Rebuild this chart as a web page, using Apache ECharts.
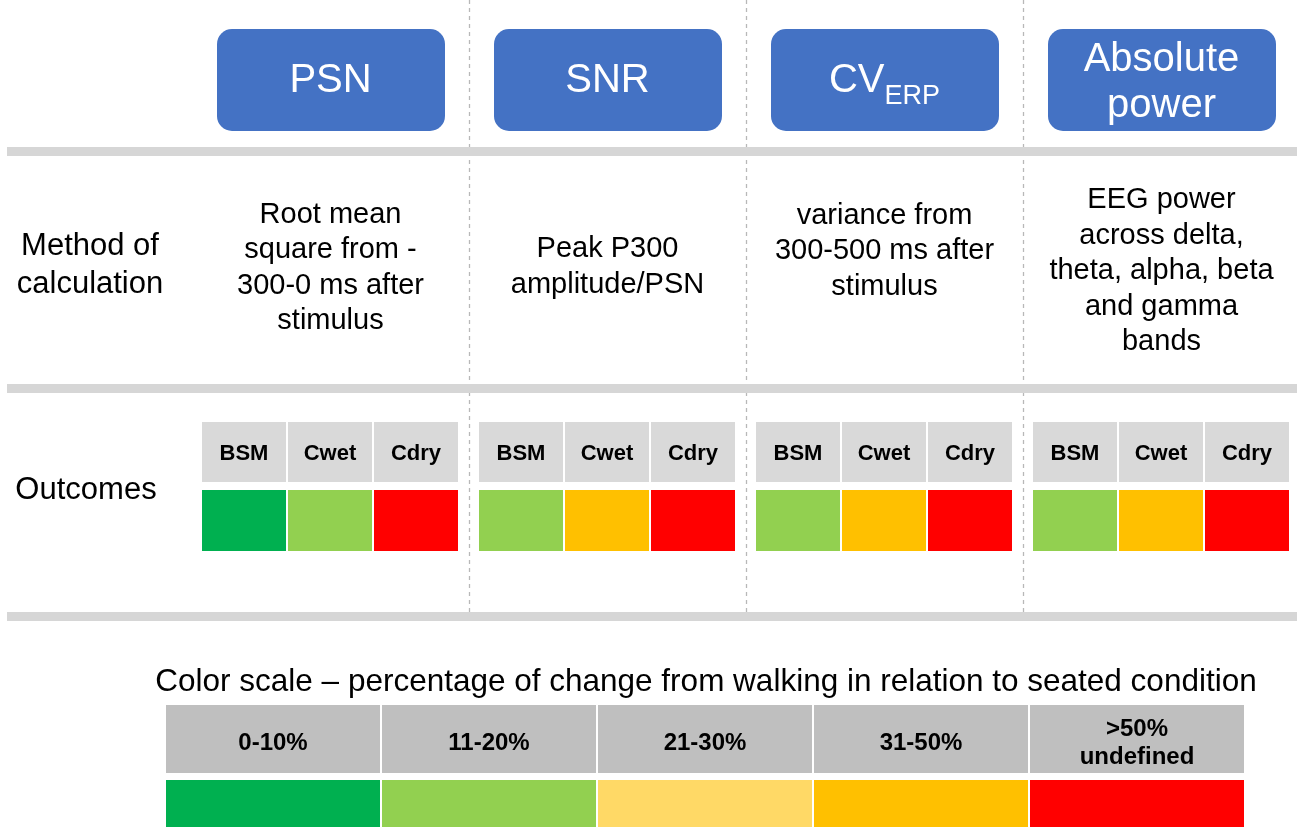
<!DOCTYPE html>
<html>
<head>
<meta charset="utf-8">
<script src="https://cdn.jsdelivr.net/npm/echarts@6/dist/echarts.min.js"></script>
<style>
html,body{margin:0;padding:0;background:#ffffff;}
#main{width:1300px;height:834px;}
</style>
</head>
<body>
<div id="main"></div>
<script>
// ---------- data ----------
const metrics = ['PSN', 'SNR', 'CVERP', 'Absolute power'];
const metricTitleMain = ['PSN', 'SNR', 'CV', 'Absolute\npower'];
const metricTitleSub = ['', '', 'ERP', ''];
const methods = [
  'Root mean\nsquare from -\n300-0 ms after\nstimulus',
  'Peak P300\namplitude/PSN',
  'variance from\n300-500 ms after\nstimulus',
  'EEG power\nacross delta,\ntheta, alpha, beta\nand gamma\nbands'
];
const rowLabels = ['Method of\ncalculation', 'Outcomes'];
const conditions = ['BSM', 'Cwet', 'Cdry'];
const scaleBins = ['0-10%', '11-20%', '21-30%', '31-50%', '>50%\nundefined'];
const scaleTitle = 'Color scale \u2013 percentage of change from walking in relation to seated condition';
// outcome level (index into scaleBins) per condition [BSM, Cwet, Cdry]
const psnLevels = [0, 1, 4];
const snrLevels = [1, 3, 4];
const cvLevels = [1, 3, 4];
const powerLevels = [1, 3, 4];
const outcomeLevels = [psnLevels, snrLevels, cvLevels, powerLevels];

// ---------- style ----------
const FONT = '"Liberation Sans", Arial, Helvetica, sans-serif';
const scaleColors = ['#00B050', '#92D050', '#FFD966', '#FFC000', '#FF0000'];
const BLUE = '#4472C4';
const HEAD_GRAY = '#D9D9D9';
const SCALE_GRAY = '#BFBFBF';
const SEP_GRAY = '#D6D6D6';

const measureCtx = document.createElement('canvas').getContext('2d');
function textWidth(t, size, weight) {
  measureCtx.font = (weight || 'normal') + ' ' + size + 'px ' + FONT;
  return measureCtx.measureText(t).width;
}

const metricData = metrics.map((m, i) => [i]);
const outcomeData = [];
outcomeLevels.forEach((lv, i) => lv.forEach((l, j) => outcomeData.push([i, j, l])));
const scaleData = scaleBins.map((b, k) => [k]);

function renderMetric(params, api) {
  const i = api.value(0);
  const cx = api.coord([i, 0])[0];
  const band = api.size([1, 0])[0];
  const Y = v => api.coord([i, v])[1];
  const left = cx - band / 2;
  const children = [];
  children.push({
    type: 'rect',
    shape: { x: left + 25, y: Y(29), width: band - 49, height: Y(131) - Y(29), r: 15 },
    style: { fill: BLUE }
  });
  const main = metricTitleMain[i];
  const sub = metricTitleSub[i];
  if (sub) {
    const wMain = textWidth(main, 40);
    const wSub = textWidth(sub, 27);
    const x0 = cx - (wMain + wSub) / 2;
    children.push({ type: 'text', style: { x: x0, y: Y(81), text: main, fill: '#fff', fontSize: 40, fontFamily: FONT, align: 'left', verticalAlign: 'middle' } });
    children.push({ type: 'text', style: { x: x0 + wMain, y: Y(97), text: sub, fill: '#fff', fontSize: 27, fontFamily: FONT, align: 'left', verticalAlign: 'middle' } });
  } else {
    const yc = main.indexOf('\n') >= 0 ? 83 : 81;
    children.push({ type: 'text', style: { x: cx, y: Y(yc), text: main, fill: '#fff', fontSize: 40, lineHeight: 46, fontFamily: FONT, align: 'center', verticalAlign: 'middle' } });
  }
  const methodCenter = [268, 267, 251, 271][i];
  children.push({ type: 'text', style: { x: cx, y: Y(methodCenter), text: methods[i], fill: '#000', fontSize: 29, lineHeight: 35.5, fontFamily: FONT, align: 'center', verticalAlign: 'middle' } });
  return { type: 'group', children };
}

function renderOutcome(params, api) {
  const i = api.value(0), j = api.value(1), l = api.value(2);
  const cx = api.coord([i, 0])[0];
  const band = api.size([1, 0])[0];
  const Y = v => api.coord([i, v])[1];
  const x = cx - band / 2 + 10 + j * 86;
  const w = 84;
  return {
    type: 'group',
    children: [
      { type: 'rect', shape: { x: x, y: Y(422), width: w, height: Y(482) - Y(422) }, style: { fill: HEAD_GRAY } },
      { type: 'text', style: { x: x + w / 2, y: Y(454), text: conditions[j], fill: '#000', fontSize: 22, fontWeight: 'bold', fontFamily: FONT, align: 'center', verticalAlign: 'middle' } },
      { type: 'rect', shape: { x: x, y: Y(490), width: w, height: Y(551) - Y(490) }, style: { fill: scaleColors[l] } }
    ]
  };
}

function renderScale(params, api) {
  const k = api.value(0);
  const cx = api.coord([k, 0])[0];
  const band = api.size([1, 0])[0];
  const Y = v => api.coord([k, v])[1];
  const x = cx - band / 2 + 1;
  const w = band - 2;
  return {
    type: 'group',
    children: [
      { type: 'rect', shape: { x: x, y: Y(0), width: w, height: Y(68) - Y(0) }, style: { fill: SCALE_GRAY } },
      { type: 'text', style: { x: cx, y: Y(38), text: scaleBins[k], fill: '#000', fontSize: 24, lineHeight: 28, fontWeight: 'bold', fontFamily: FONT, align: 'center', verticalAlign: 'middle' } },
      { type: 'rect', shape: { x: x, y: Y(75), width: w, height: Y(122) - Y(75) }, style: { fill: scaleColors[k] } }
    ]
  };
}

const chart = echarts.init(document.getElementById('main'), null, { renderer: 'canvas' });
const hiddenY = (max) => ({ type: 'value', min: 0, max: max, inverse: true, show: false });

chart.setOption({
  animation: false,
  backgroundColor: '#ffffff',
  grid: [
    { left: 192, right: 0, top: 0, height: 612 },
    { left: 165, right: 55, top: 705, height: 122 }
  ],
  xAxis: [
    {
      type: 'category', gridIndex: 0, data: metrics, boundaryGap: true,
      axisLine: { show: false }, axisTick: { show: false }, axisLabel: { show: false },
      splitLine: { show: true, interval: 0, showMinLine: false, showMaxLine: false,
        lineStyle: { color: '#B8B8B8', width: 1.3, type: [4, 4] } }
    },
    {
      type: 'category', gridIndex: 1, data: scaleBins, boundaryGap: true,
      axisLine: { show: false }, axisTick: { show: false }, axisLabel: { show: false }, splitLine: { show: false }
    }
  ],
  yAxis: [
    Object.assign(hiddenY(612), { gridIndex: 0 }),
    Object.assign(hiddenY(122), { gridIndex: 1 })
  ],
  graphic: [
    { type: 'rect', shape: { x: 7, y: 147, width: 1290, height: 9 }, style: { fill: SEP_GRAY }, z: 1 },
    { type: 'rect', shape: { x: 7, y: 384, width: 1290, height: 9 }, style: { fill: SEP_GRAY }, z: 1 },
    { type: 'rect', shape: { x: 7, y: 612, width: 1290, height: 9 }, style: { fill: SEP_GRAY }, z: 1 },
    { type: 'text', style: { x: 90, y: 265, text: rowLabels[0], fill: '#000', fontSize: 31, lineHeight: 38, fontFamily: FONT, align: 'center', verticalAlign: 'middle' } },
    { type: 'text', style: { x: 86, y: 490, text: rowLabels[1], fill: '#000', fontSize: 31, fontFamily: FONT, align: 'center', verticalAlign: 'middle' } },
    { type: 'text', style: { x: 706, y: 682, text: scaleTitle, fill: '#000', fontSize: 31.5, fontFamily: FONT, align: 'center', verticalAlign: 'middle' } }
  ],
  series: [
    { type: 'custom', name: 'metrics', xAxisIndex: 0, yAxisIndex: 0, data: metricData, renderItem: renderMetric, z: 3 },
    { type: 'custom', name: 'outcomes', xAxisIndex: 0, yAxisIndex: 0, data: outcomeData, renderItem: renderOutcome, z: 3 },
    { type: 'custom', name: 'colorScale', xAxisIndex: 1, yAxisIndex: 1, data: scaleData, renderItem: renderScale, z: 3 }
  ]
});
</script>
</body>
</html>
